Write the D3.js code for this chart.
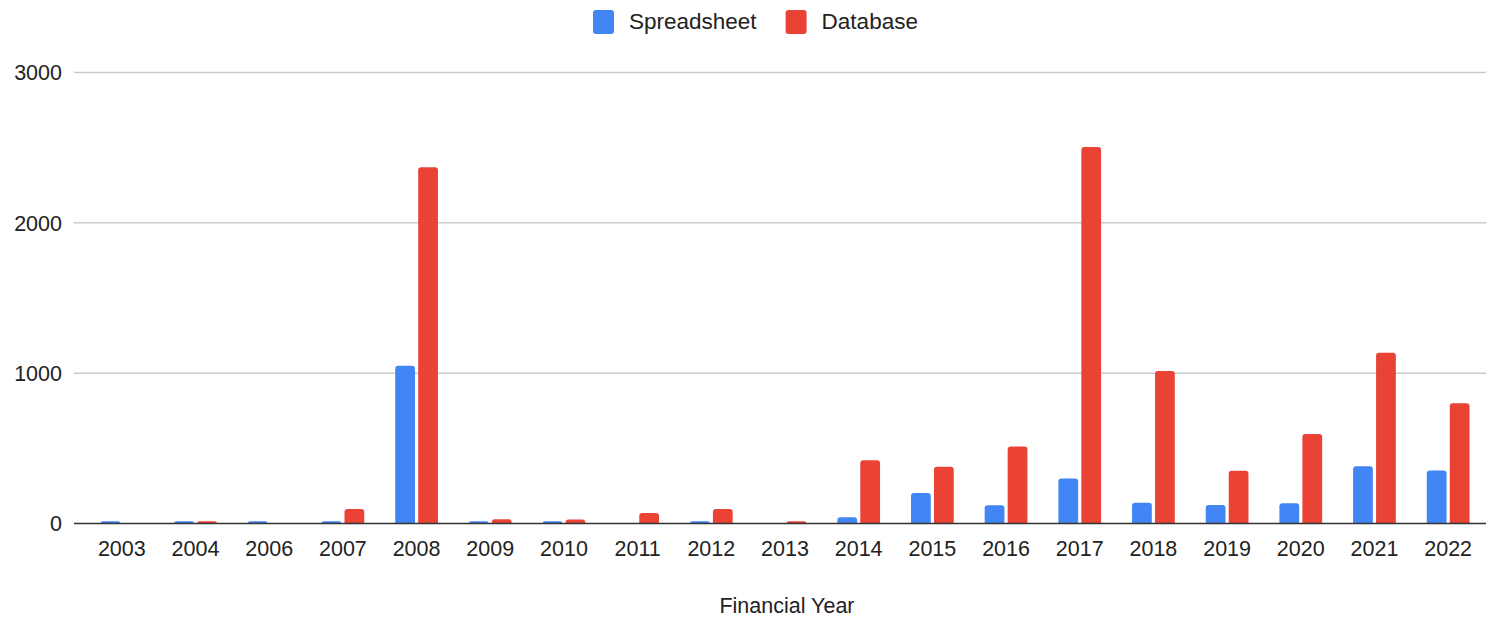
<!DOCTYPE html>
<html>
<head>
<meta charset="utf-8">
<script src="https://cdn.jsdelivr.net/npm/d3@7"></script>
<style>
  body { margin: 0; background: #fff; }
  text { font-family: "Liberation Sans", Arial, sans-serif; fill: #222; }
</style>
</head>
<body>
<div id="chart"></div>
<script>
// data
var years = ["2003","2004","2006","2007","2008","2009","2010","2011","2012","2013","2014","2015","2016","2017","2018","2019","2020","2021","2022"];
var seriesNames = ["Spreadsheet", "Database"];
var spreadsheet = [15, 15, 15, 15, 1050, 15, 15, 0, 15, 0, 42, 203, 122, 300, 138, 123, 135, 381, 353];
var database = [0, 15, 0, 96, 2370, 28, 27, 70, 96, 15, 420, 378, 513, 2505, 1015, 351, 596, 1136, 800];
var yTicks = [0, 1000, 2000, 3000];
var colors = ["#4285f4", "#ea4335"];

var width = 1488, height = 617;
var margin = {top: 72.5, right: 2, bottom: 93.5, left: 74};

var svg = d3.select("#chart").append("svg")
    .attr("width", width)
    .attr("height", height);

var x = d3.scaleBand()
    .domain(years)
    .range([85, 1485])
    .paddingInner(0.42)
    .paddingOuter(0.21);

var x1 = d3.scaleBand()
    .domain(seriesNames)
    .range([0, x.bandwidth()])
    .paddingInner(0.14);

var y = d3.scaleLinear()
    .domain([0, 3000])
    .range([height - margin.bottom, margin.top]);

// gridlines
svg.append("g")
    .selectAll("line")
    .data(yTicks.filter(function(d) { return d > 0; }))
    .enter().append("line")
    .attr("x1", margin.left)
    .attr("x2", width - margin.right)
    .attr("y1", function(d) { return y(d); })
    .attr("y2", function(d) { return y(d); })
    .attr("stroke", "#cccccc")
    .attr("stroke-width", 1.5);

// y labels
svg.append("g")
    .selectAll("text")
    .data(yTicks)
    .enter().append("text")
    .attr("x", 62)
    .attr("y", function(d) { return y(d); })
    .attr("dy", "0.36em")
    .attr("text-anchor", "end")
    .style("font-size", "21.5px")
    .text(function(d) { return d; });

// bars, rounded top corners
function barPath(x0, w, yTop, yBase) {
    var h = yBase - yTop;
    if (h <= 0) return "";
    var r = Math.min(3, h, w / 2);
    return "M" + x0 + "," + yBase +
        "V" + (yTop + r) +
        "Q" + x0 + "," + yTop + " " + (x0 + r) + "," + yTop +
        "H" + (x0 + w - r) +
        "Q" + (x0 + w) + "," + yTop + " " + (x0 + w) + "," + (yTop + r) +
        "V" + yBase + "Z";
}

var allSeries = [spreadsheet, database];
allSeries.forEach(function(vals, si) {
    svg.append("g")
        .selectAll("path")
        .data(years)
        .enter().append("path")
        .attr("fill", colors[si])
        .attr("d", function(d, i) {
            return barPath(x(d) + x1(seriesNames[si]), x1.bandwidth(), y(vals[i]), y(0));
        });
});

// baseline
svg.append("line")
    .attr("x1", margin.left)
    .attr("x2", width - margin.right)
    .attr("y1", y(0))
    .attr("y2", y(0))
    .attr("stroke", "#333")
    .attr("stroke-width", 1.5);

// x labels
svg.append("g")
    .selectAll("text")
    .data(years)
    .enter().append("text")
    .attr("x", function(d) { return x(d) + x.bandwidth() / 2; })
    .attr("y", 556)
    .attr("text-anchor", "middle")
    .style("font-size", "21.5px")
    .text(function(d) { return d; });

// axis title
svg.append("text")
    .attr("x", 787)
    .attr("y", 613)
    .attr("text-anchor", "middle")
    .style("font-size", "21.5px")
    .text("Financial Year");

// legend
var legend = svg.append("g");
var lx = 593;
seriesNames.forEach(function(name, i) {
    legend.append("rect")
        .attr("x", lx)
        .attr("y", 10)
        .attr("width", 21)
        .attr("height", 24)
        .attr("rx", 3)
        .attr("fill", colors[i]);
    var t = legend.append("text")
        .attr("x", lx + 36)
        .attr("y", 29)
        .style("font-size", "22.5px")
        .text(name);
    lx += 36 + t.node().getComputedTextLength() + 29;
});
</script>
</body>
</html>
